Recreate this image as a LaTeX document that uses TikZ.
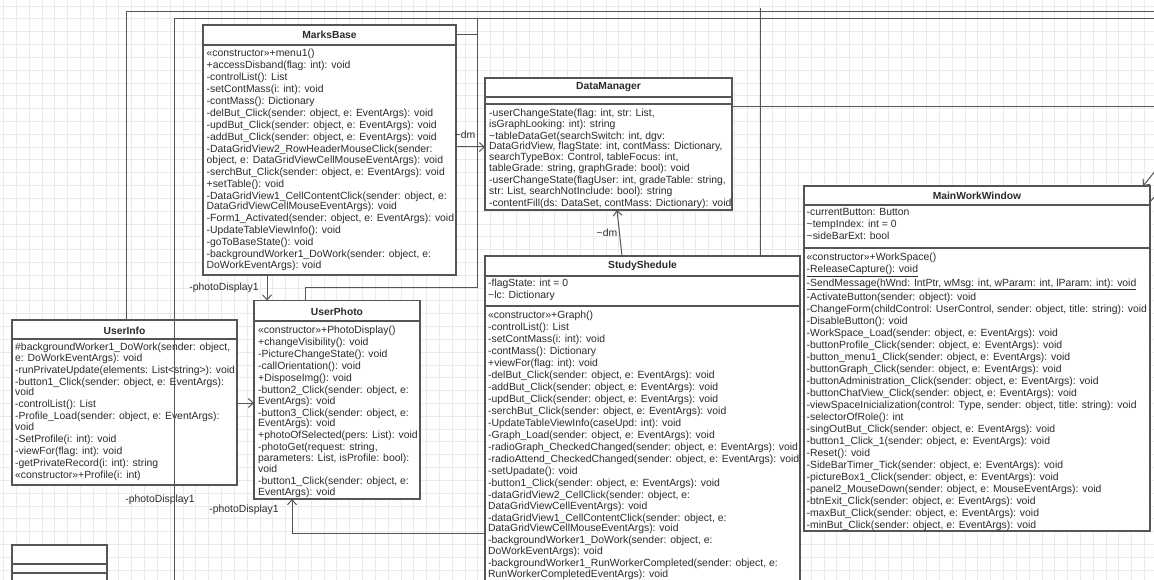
\documentclass[tikz,border=0pt]{standalone}
\usepackage{fontspec}
\setmainfont{Liberation Sans}
\usetikzlibrary{arrows.meta}

\definecolor{gridgray}{HTML}{EAEAEA}
\definecolor{umlline}{HTML}{555555}
\definecolor{umltext}{HTML}{2B2B2B}

\newcommand{\nrow}{\\[1.2pt]}
\newcommand{\tld}{\textasciitilde}

\begin{document}
\begin{tikzpicture}[x=1pt, y=-1pt, line cap=butt, line join=miter,
  classbox/.style={draw=umlline, fill=white, line width=1.2pt, rectangle, anchor=north west, inner sep=0pt, outer sep=0pt},
  classname/.style={font=\fontsize{10.3}{12}\selectfont\bfseries, text=umltext, inner sep=0pt},
  members/.style={font=\fontsize{10.4}{10.8}\selectfont, text=umltext, align=left, anchor=north west, inner sep=0pt},
  divider/.style={draw=umlline, line width=1.2pt},
  wire/.style={draw=umlline, line width=1pt},
  assoc/.style={wire, -{Straight Barb[length=5pt, width=9pt]}},
  role/.style={font=\fontsize{10.4}{12}\selectfont, text=umltext, inner sep=0pt}]

  %% ==== canvas + grid ====
  \fill[white] (0,0) rectangle (1154,580);
  \foreach \gx in {0,...,89} \draw[gridgray, line width=0.8pt] (3.5+12.82*\gx,0) -- (3.5+12.82*\gx,580);
  \foreach \gy in {0,...,44} \draw[gridgray, line width=0.8pt] (0,6+12.82*\gy) -- (1154,6+12.82*\gy);

  %% ==== MarksBase ====
  \node[classbox, minimum width=253pt, minimum height=250pt] (marks) at (203,25) {};
  \node[classname] (marksN) at (marks.north |- 0,35) {MarksBase};
  \draw[divider] (marks.west |- 0,45) -- (marks.east |- 0,45);
  \node[members] (marksM) at (206.5,48.5) {%
    «constructor»+menu1()\nrow
    +accessDisband(flag: int): void\nrow
    -controlList(): List\nrow
    -setContMass(i: int): void\nrow
    -contMass(): Dictionary\nrow
    -delBut\_Click(sender: object, e: EventArgs): void\nrow
    -updBut\_Click(sender: object, e: EventArgs): void\nrow
    -addBut\_Click(sender: object, e: EventArgs): void\nrow
    -DataGridView2\_RowHeaderMouseClick(sender:\\
    object, e: DataGridViewCellMouseEventArgs): void\nrow
    -serchBut\_Click(sender: object, e: EventArgs): void\nrow
    +setTable(): void\nrow
    -DataGridView1\_CellContentClick(sender: object, e:\\
    DataGridViewCellMouseEventArgs): void\nrow
    -Form1\_Activated(sender: object, e: EventArgs): void\nrow
    -UpdateTableViewInfo(): void\nrow
    -goToBaseState(): void\nrow
    -backgroundWorker1\_DoWork(sender: object, e:\\
    DoWorkEventArgs): void};

  %% ==== DataManager ====
  \node[classbox, minimum width=247pt, minimum height=132pt] (dman) at (485,78) {};
  \node[classname] (dmanN) at (dman.north |- 0,87.5) {DataManager};
  \draw[divider] (dman.west |- 0,97) -- (dman.east |- 0,97);
  \draw[divider] (dman.west |- 0,104) -- (dman.east |- 0,104);
  \node[members] (dmanM) at (489,108.5) {%
    -userChangeState(flag: int, str: List,\\
    isGraphLooking: int): string\nrow
    \tld tableDataGet(searchSwitch: int, dgv:\\
    DataGridView, flagState: int, contMass: Dictionary,\\
    searchTypeBox: Control, tableFocus: int,\\
    tableGrade: string, graphGrade: bool): void\nrow
    -userChangeState(flagUser: int, gradeTable: string,\\
    str: List, searchNotInclude: bool): string\nrow
    -contentFill(ds: DataSet, contMass: Dictionary): void};

  %% ==== StudyShedule (runs past the bottom) ====
  \node[classbox, minimum width=315pt, minimum height=340pt] (study) at (485,256) {};
  \node[classname] (studyN) at (study.north |- 0,266) {StudyShedule};
  \draw[divider] (study.west |- 0,276) -- (study.east |- 0,276);
  \node[members] (studyA) at (488,278.5) {%
    -flagState: int = 0\nrow
    \tld lc: Dictionary};
  \draw[divider] (study.west |- 0,306) -- (study.east |- 0,306);
  \node[members] (studyM) at (488,310.5) {%
    «constructor»+Graph()\nrow
    -controlList(): List\nrow
    -setContMass(i: int): void\nrow
    -contMass(): Dictionary\nrow
    +viewFor(flag: int): void\nrow
    -delBut\_Click(sender: object, e: EventArgs): void\nrow
    -addBut\_Click(sender: object, e: EventArgs): void\nrow
    -updBut\_Click(sender: object, e: EventArgs): void\nrow
    -serchBut\_Click(sender: object, e: EventArgs): void\nrow
    -UpdateTableViewInfo(caseUpd: int): void\nrow
    -Graph\_Load(sender: object, e: EventArgs): void\nrow
    -radioGraph\_CheckedChanged(sender: object, e: EventArgs): void\nrow
    -radioAttend\_CheckedChanged(sender: object, e: EventArgs): void\nrow
    -setUpadate(): void\nrow
    -button1\_Click(sender: object, e: EventArgs): void\nrow
    -dataGridView2\_CellClick(sender: object, e:\\
    DataGridViewCellEventArgs): void\nrow
    -dataGridView1\_CellContentClick(sender: object, e:\\
    DataGridViewCellMouseEventArgs): void\nrow
    -backgroundWorker1\_DoWork(sender: object, e:\\
    DoWorkEventArgs): void\nrow
    -backgroundWorker1\_RunWorkerCompleted(sender: object, e:\\
    RunWorkerCompletedEventArgs): void};

  %% ==== MainWorkWindow ====
  \node[classbox, minimum width=346pt, minimum height=345pt] (mww) at (804,186) {};
  \node[classname] (mwwN) at (mww.north |- 0,196) {MainWorkWindow};
  \draw[divider] (mww.west |- 0,205) -- (mww.east |- 0,205);
  \node[members] (mwwA) at (806.5,208.5) {%
    -currentButton: Button\nrow
    \tld tempIndex: int = 0\nrow
    \tld sideBarExt: bool};
  \draw[divider] (mww.west |- 0,248) -- (mww.east |- 0,248);
  \node[members] (mwwM) at (806.5,252.5) {%
    «constructor»+WorkSpace()\nrow
    \underline{-ReleaseCapture(): void}\nrow
    \underline{-SendMessage(hWnd: IntPtr, wMsg: int, wParam: int, lParam: int): void}\nrow
    -ActivateButton(sender: object): void\nrow
    -ChangeForm(childControl: UserControl, sender: object, title: string): void\nrow
    -DisableButton(): void\nrow
    -WorkSpace\_Load(sender: object, e: EventArgs): void\nrow
    -buttonProfile\_Click(sender: object, e: EventArgs): void\nrow
    -button\_menu1\_Click(sender: object, e: EventArgs): void\nrow
    -buttonGraph\_Click(sender: object, e: EventArgs): void\nrow
    -buttonAdministration\_Click(sender: object, e: EventArgs): void\nrow
    -buttonChatView\_Click(sender: object, e: EventArgs): void\nrow
    -viewSpaceInicialization(control: Type, sender: object, title: string): void\nrow
    -selectorOfRole(): int\nrow
    -singOutBut\_Click(sender: object, e: EventArgs): void\nrow
    -button1\_Click\_1(sender: object, e: EventArgs): void\nrow
    -Reset(): void\nrow
    -SideBarTimer\_Tick(sender: object, e: EventArgs): void\nrow
    -pictureBox1\_Click(sender: object, e: EventArgs): void\nrow
    -panel2\_MouseDown(sender: object, e: MouseEventArgs): void\nrow
    -btnExit\_Click(sender: object, e: EventArgs): void\nrow
    -maxBut\_Click(sender: object, e: EventArgs): void\nrow
    -minBut\_Click(sender: object, e: EventArgs): void};

  %% ==== UserInfo ====
  \node[classbox, minimum width=225pt, minimum height=165pt] (uinfo) at (12,320) {};
  \node[classname] (uinfoN) at (uinfo.north |- 0,331) {UserInfo};
  \draw[divider] (uinfo.west |- 0,339) -- (uinfo.east |- 0,339);
  \node[members] (uinfoM) at (15,342.5) {%
    \#backgroundWorker1\_DoWork(sender: object,\\
    e: DoWorkEventArgs): void\nrow
    -runPrivateUpdate(elements: List<string>): void\nrow
    -button1\_Click(sender: object, e: EventArgs):\\
    void\nrow
    -controlList(): List\nrow
    -Profile\_Load(sender: object, e: EventArgs):\\
    void\nrow
    -SetProfile(i: int): void\nrow
    -viewFor(flag: int): void\nrow
    -getPrivateRecord(i: int): string\nrow
    «constructor»+Profile(i: int)};

  %% ==== UserPhoto ====
  \node[classbox, minimum width=166pt, minimum height=198.5pt] (uphoto) at (254,300.5) {};
  \node[classname] (uphotoN) at (uphoto.north |- 0,312) {UserPhoto};
  \draw[divider] (uphoto.west |- 0,321) -- (uphoto.east |- 0,321);
  \node[members] (uphotoM) at (258,325.5) {%
    «constructor»+PhotoDisplay()\nrow
    +changeVisibility(): void\nrow
    -PictureChangeState(): void\nrow
    -callOrientation(): void\nrow
    +DisposeImg(): void\nrow
    -button2\_Click(sender: object, e:\\
    EventArgs): void\nrow
    -button3\_Click(sender: object, e:\\
    EventArgs): void\nrow
    +photoOfSelected(pers: List): void\nrow
    -photoGet(request: string,\\
    parameters: List, isProfile: bool):\\
    void\nrow
    -button1\_Click(sender: object, e:\\
    EventArgs): void};

  %% ==== class cut off at bottom left ====
  \node[classbox, minimum width=95pt, minimum height=60pt] (lowcls) at (12,545) {};
  \draw[divider] (lowcls.west |- 0,564) -- (lowcls.east |- 0,564);
  \draw[divider] (lowcls.west |- 0,573) -- (lowcls.east |- 0,573);

  %% ==== connectors ====
  % lines coming in from beyond the frame
  \coordinate (offA) at (1154,12);
  \coordinate (offB) at (1154,19);
  \coordinate (downB) at (174,580);
  \draw[wire] (offA) -| (uinfo.north -| 126,0);
  \draw[wire] (offB) -| (downB);
  \coordinate (topF) at (760,8);
  \draw[wire] (topF) -- (study.north -| 760,0);
  \coordinate (offE) at (1154,107);
  \draw[wire] (dman.east |- 0,107) -- (offE);
  \coordinate (topG) at (477,19);
  \coordinate (bendG) at (477,287);
  \draw[wire] (topG) -- (bendG) -| (uphoto.north -| 305,0);
  \coordinate (sideH) at (477,35);
  \draw[wire] (marks.east |- 0,35) -- (sideH);
  % top right corner of MainWorkWindow
  \coordinate (offC) at (1156,170);
  \draw[assoc] (offC) -- (mww.north -| 1143,0);
  \coordinate (offD) at (1156,195);
  \draw[wire] (mww.east |- 0,202) -- (offD);

  % ~dm
  \draw[assoc] (marks.east |- 0,147) -- (dman.west |- 0,147);
  \node[role] (dmA) at (465,135) {\tld dm};
  \draw[assoc] (study.north -| 622,0) -- (dman.south -| 617,0);
  \node[role] (dmB) at (607,233) {\tld dm};

  % -photoDisplay1
  \draw[assoc] (marks.south -| 267,0) -- (uphoto.north -| 267,0);
  \node[role] (pdA) at (224,288) {-photoDisplay1};
  \draw[assoc] (uinfo.east |- 0,403) -- (uphoto.west |- 0,403);
  \node[role] (pdB) at (160,500) {-photoDisplay1};
  \draw[assoc] (study.west |- 0,533) -| (uphoto.south -| 292,0);
  \node[role] (pdC) at (244,510) {-photoDisplay1};

  \pgfresetboundingbox
  \path[use as bounding box] (0,0) rectangle (1154,580);
\end{tikzpicture}
\end{document}
